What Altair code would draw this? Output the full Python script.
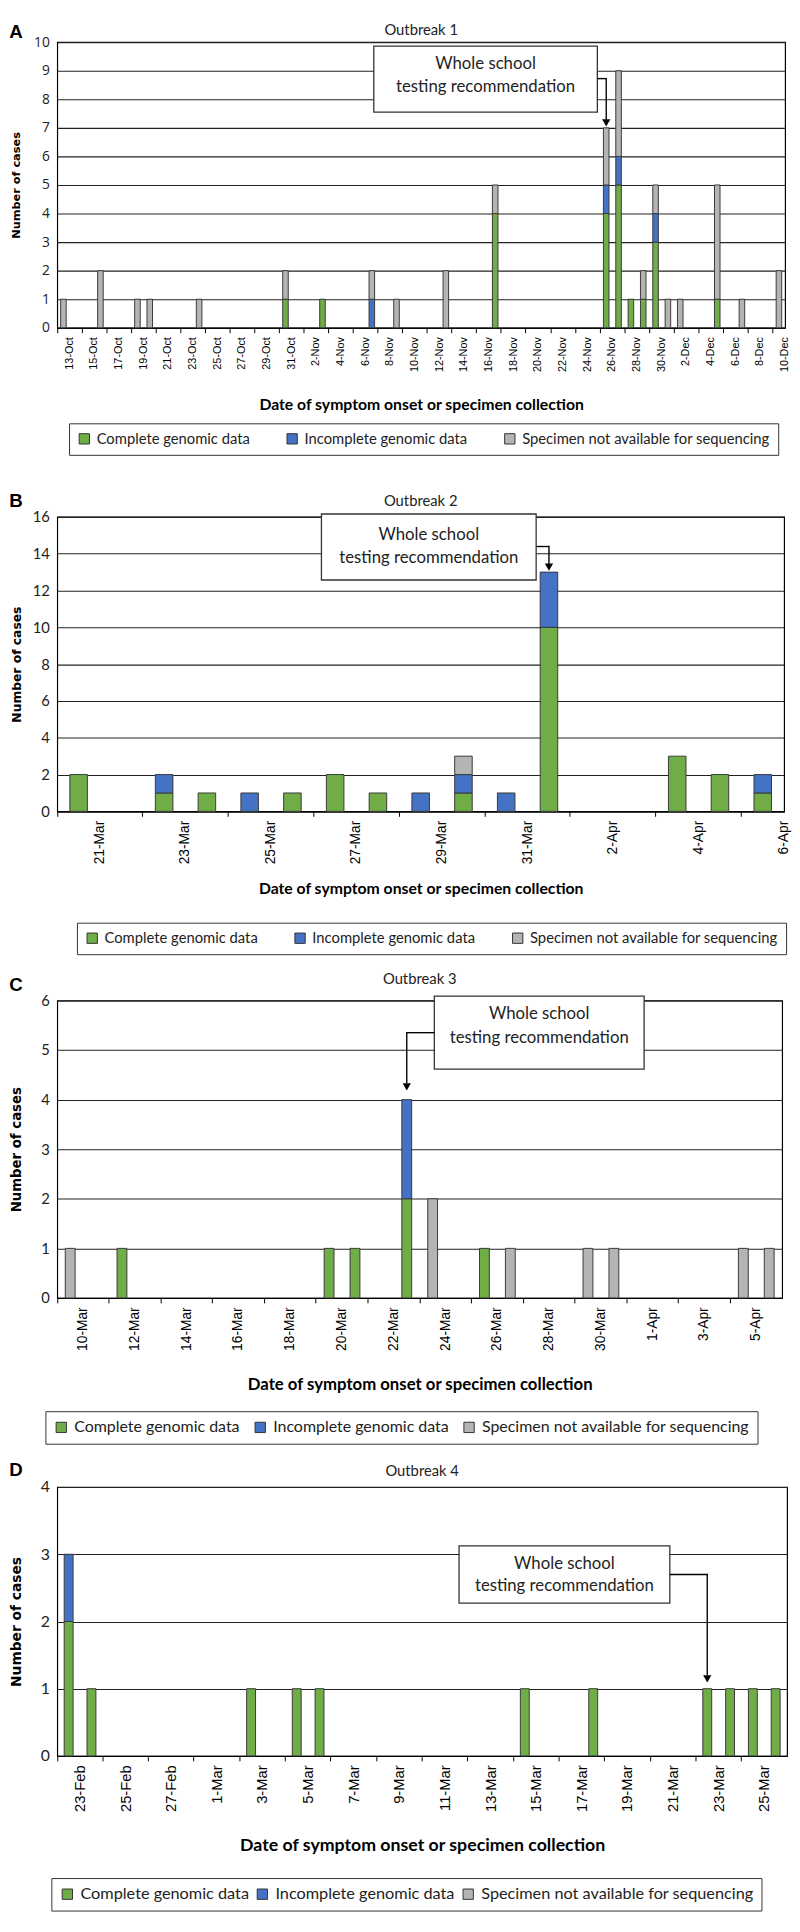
import altair as alt
import pandas as pd

STATUS = ["Complete genomic data", "Incomplete genomic data", "Specimen not available for sequencing"]
COLORS = ["#70AD47", "#4472C4", "#B4B4B4"]
X_TITLE = "Date of symptom onset or specimen collection"
Y_TITLE = "Number of cases"
ANN_1 = "Whole school"
ANN_2 = "testing recommendation"

# ---------------- Outbreak 1 ----------------
o1_range = ("2020-10-13", "2020-12-10")
o1_dates = ["13-Oct", "16-Oct", "19-Oct", "20-Oct", "24-Oct", "31-Oct", "3-Nov", "7-Nov", "9-Nov",
            "13-Nov", "17-Nov", "26-Nov", "27-Nov", "28-Nov", "29-Nov", "30-Nov", "1-Dec", "2-Dec",
            "5-Dec", "7-Dec", "10-Dec"]
o1_complete = [0, 0, 0, 0, 0, 1, 1, 0, 0, 0, 4, 4, 5, 1, 1, 3, 0, 0, 1, 0, 0]
o1_incomplete = [0, 0, 0, 0, 0, 0, 0, 1, 0, 0, 0, 1, 1, 0, 0, 1, 0, 0, 0, 0, 0]
o1_unavailable = [1, 2, 1, 1, 1, 1, 0, 1, 1, 2, 1, 2, 3, 0, 1, 1, 1, 1, 4, 1, 2]
o1_target = "26-Nov"

# ---------------- Outbreak 2 ----------------
o2_range = ("2021-03-21", "2021-04-06")
o2_dates = ["21-Mar", "23-Mar", "24-Mar", "25-Mar", "26-Mar", "27-Mar", "28-Mar", "29-Mar",
            "30-Mar", "31-Mar", "1-Apr", "4-Apr", "5-Apr", "6-Apr"]
o2_complete = [2, 1, 1, 0, 1, 2, 1, 0, 1, 0, 10, 3, 2, 1]
o2_incomplete = [0, 1, 0, 1, 0, 0, 0, 1, 1, 1, 3, 0, 0, 1]
o2_unavailable = [0, 0, 0, 0, 0, 0, 0, 0, 1, 0, 0, 0, 0, 0]
o2_target = "1-Apr"

# ---------------- Outbreak 3 ----------------
o3_range = ("2021-03-10", "2021-04-06")
o3_dates = ["10-Mar", "12-Mar", "20-Mar", "21-Mar", "23-Mar", "24-Mar", "26-Mar", "27-Mar",
            "30-Mar", "31-Mar", "5-Apr", "6-Apr"]
o3_complete = [0, 1, 1, 1, 2, 0, 1, 0, 0, 0, 0, 0]
o3_incomplete = [0, 0, 0, 0, 2, 0, 0, 0, 0, 0, 0, 0]
o3_unavailable = [1, 0, 0, 0, 0, 2, 0, 1, 1, 1, 1, 1]
o3_target = "23-Mar"

# ---------------- Outbreak 4 ----------------
o4_range = ("2021-02-23", "2021-03-26")
o4_dates = ["23-Feb", "24-Feb", "3-Mar", "5-Mar", "6-Mar", "15-Mar", "18-Mar", "23-Mar",
            "24-Mar", "25-Mar", "26-Mar"]
o4_complete = [2, 1, 1, 1, 1, 1, 1, 1, 1, 1, 1]
o4_incomplete = [1, 0, 0, 0, 0, 0, 0, 0, 0, 0, 0]
o4_unavailable = [0, 0, 0, 0, 0, 0, 0, 0, 0, 0, 0]
o4_target = "23-Mar"

Y_MAX = [10, 16, 6, 4]
Y_STEP = [1, 2, 1, 1]

# style / layout per panel (pixels)
STYLE = [
    dict(letter="A", title="Outbreak 1", width=739, height=290, band=0.45, xlab=11, ylabfont="Open Sans",
         ylab=14, ytitle=11.5, xtitle=16, xtitleY=78, leg=15, legpad=35, legX=12, legY=387,
         letterY=-10, titleY=-12,
         box=dict(w=227, dx=-122.5, y1=-83, y2=-16, t1=-65, t2=-41, hx=-9, hw=9, hy=-50, v1=-50, v2=-8, head=-5)),
    dict(letter="B", title="Outbreak 2", width=738, height=299, band=0.41, xlab=14, ylabfont="Lato",
         ylab=15, ytitle=12.5, xtitle=16, xtitleY=78, leg=15, legpad=35, legX=20, legY=412,
         letterY=-16, titleY=-16,
         box=dict(w=218, dx=-122, y1=-59, y2=8, t1=-38, t2=-14, hx=-13, hw=13, hy=-26, v1=-26, v2=-8, head=-5)),
    dict(letter="C", title="Outbreak 3", width=736, height=302, band=0.38, xlab=14, ylabfont="Lato",
         ylab=15, ytitle=13.5, xtitle=17, xtitleY=88, leg=16.2, legpad=12, legX=-12, legY=417,
         letterY=-16, titleY=-22,
         box=dict(w=213, dx=134.5, y1=-105, y2=-31, t1=-87, t2=-63, hx=0, hw=28, hy=-68, v1=-68, v2=-17, head=-13)),
    dict(letter="D", title="Outbreak 4", width=741, height=273, band=0.39, xlab=15, ylabfont="Lato",
         ylab=16, ytitle=14, xtitle=18, xtitleY=91, leg=16.5, legpad=5, legX=-6, legY=397,
         letterY=-17, titleY=-16,
         box=dict(w=214, dx=-145, y1=-145, y2=-87, t1=-127, t2=-104, hx=-38, hw=38, hy=-116, v1=-116, v2=-14, head=-10)),
]

DATA = [
    (o1_range, o1_dates, o1_complete, o1_incomplete, o1_unavailable, o1_target),
    (o2_range, o2_dates, o2_complete, o2_incomplete, o2_unavailable, o2_target),
    (o3_range, o3_dates, o3_complete, o3_incomplete, o3_unavailable, o3_target),
    (o4_range, o4_dates, o4_complete, o4_incomplete, o4_unavailable, o4_target),
]


def make_panel(data, ymax, ystep, st):
    (start, end), dates, comp, inc, una, target = data
    days = [f"{d.day}-{d.strftime('%b')}" for d in pd.date_range(start, end)]
    step = st["width"] / len(days)

    rows = []
    for d, c, i, u in zip(dates, comp, inc, una):
        for k, v in enumerate((c, i, u)):
            if v:
                rows.append({"day": d, "status": STATUS[k], "order": k, "count": v})
    df = pd.DataFrame(rows)
    total = sum(c + i + u for d, c, i, u in zip(dates, comp, inc, una) if d == target)
    ann = pd.DataFrame({"day": [target], "count": [total]})

    xscale = alt.Scale(type="band", domain=days, paddingInner=0, paddingOuter=0)
    yscale = alt.Scale(domain=[0, ymax], nice=False, zero=True)

    x_axis = alt.Axis(
        values=days[::2], bandPosition=0, labelOffset=step / 2, labelAngle=270,
        labelFont="Liberation Sans", labelFontSize=st["xlab"], labelColor="black",
        labelOverlap=False, labelPadding=4, tickColor="black", tickSize=5, tickWidth=1,
        domainColor="black", domainWidth=1.2, grid=False, title=X_TITLE,
        titleFont="Lato", titleFontWeight="bold", titleFontSize=st["xtitle"], titleColor="black",
        titleY=st["xtitleY"], titleBaseline="middle")
    y_axis = alt.Axis(
        values=list(range(0, ymax + 1, ystep)), grid=True, gridColor="#222222", gridWidth=1.1,
        domain=False, ticks=False, labelPadding=8, labelFont=st["ylabfont"],
        labelFontSize=st["ylab"], labelColor="#222222", title=Y_TITLE, titleFont="DejaVu Sans",
        titleFontWeight="bold", titleFontSize=st["ytitle"], titleColor="black", titleX=-41,
        titleBaseline="middle")

    X = alt.X("day:N", scale=xscale, axis=x_axis)
    Y = alt.Y("count:Q", scale=yscale, axis=y_axis)

    bars = alt.Chart(df).mark_bar(
        width=alt.RelativeBandSize(st["band"]), stroke="#3a3a3a", strokeWidth=1
    ).encode(
        x=X,
        y=alt.Y("count:Q", stack="zero", scale=yscale, axis=y_axis),
        color=alt.Color("status:N", scale=alt.Scale(domain=STATUS, range=COLORS),
                        legend=alt.Legend(
                            title=None, orient="none", legendX=st["legX"], legendY=st["legY"],
                            direction="horizontal", strokeColor="#333333", fillColor="white",
                            padding=8, symbolType="square", symbolSize=110,
                            symbolStrokeColor="#333333", symbolStrokeWidth=1,
                            labelFont="Lato", labelFontSize=st["leg"], labelColor="#222222",
                            labelLimit=500, columnPadding=st["legpad"], symbolOffset=0,
                            labelOffset=5)),
        order=alt.Order("order:Q"),
    )

    b = st["box"]
    box = alt.Chart(ann).mark_rect(
        width=b["w"], xOffset=b["dx"], yOffset=b["y1"], y2Offset=b["y2"],
        fill="white", stroke="#333333", strokeWidth=1.3).encode(x=X, y=Y, y2=alt.Y2("count"))
    hseg = alt.Chart(ann).mark_rect(
        width=b["hw"], xOffset=b["hx"] + b["hw"] / 2, yOffset=b["hy"] - 0.7, y2Offset=b["hy"] + 0.7,
        fill="black").encode(x=X, y=Y, y2=alt.Y2("count"))
    vseg = alt.Chart(ann).mark_rect(
        width=1.4, xOffset=0, yOffset=b["v1"] - 0.7, y2Offset=b["v2"],
        fill="black").encode(x=X, y=Y, y2=alt.Y2("count"))
    head = alt.Chart(ann).mark_point(
        shape="triangle-down", filled=True, size=70, color="black", opacity=1, yOffset=b["head"]
    ).encode(x=X, y=Y)
    t1 = alt.Chart(ann).mark_text(
        text=ANN_1, font="Lato", fontSize=17, color="#222222", dx=b["dx"], dy=b["t1"],
        align="center", baseline="middle").encode(x=X, y=Y)
    t2 = alt.Chart(ann).mark_text(
        text=ANN_2, font="Lato", fontSize=17, color="#222222", dx=b["dx"], dy=b["t2"],
        align="center", baseline="middle").encode(x=X, y=Y)

    lab = pd.DataFrame({"letter": [st["letter"]], "title": [st["title"]]})
    letter = alt.Chart(lab).mark_text(
        font="Liberation Sans", fontWeight="bold", fontSize=19, color="black",
        align="center", baseline="middle"
    ).encode(text="letter:N", x=alt.value(-42), y=alt.value(st["letterY"]))
    title = alt.Chart(lab).mark_text(
        font="Lato", fontSize=15, color="#222222", align="center", baseline="middle"
    ).encode(text="title:N", x=alt.value(st["width"] / 2), y=alt.value(st["titleY"]))

    return alt.layer(bars, box, hseg, vseg, head, t1, t2, letter, title).properties(
        width=st["width"], height=st["height"])


panels = [make_panel(DATA[i], Y_MAX[i], Y_STEP[i], STYLE[i]) for i in range(4)]

chart = alt.vconcat(*panels, spacing=192, bounds="flush").resolve_scale(
    color="independent", x="independent", y="independent"
).configure_view(stroke="black", strokeWidth=1.2).properties(padding=0, background="white")

chart.save("out.html", embed_options={"renderer": "svg", "actions": False})
